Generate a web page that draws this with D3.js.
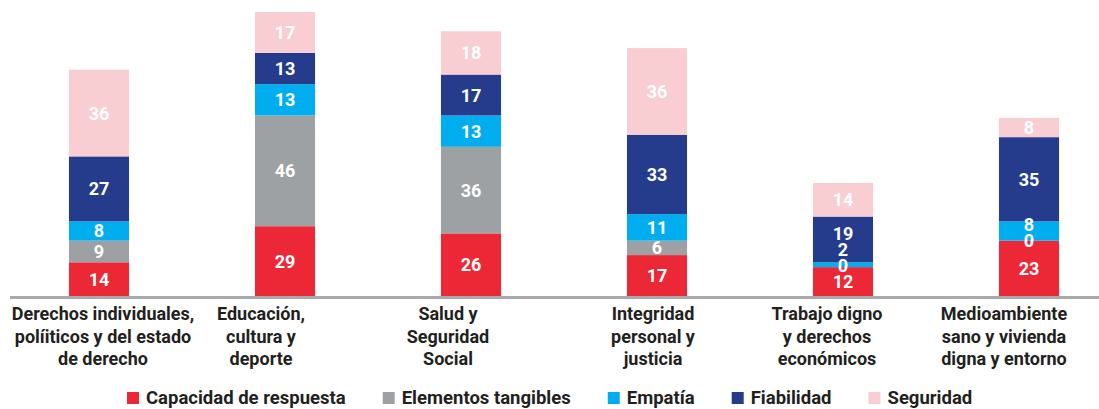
<!DOCTYPE html>
<html>
<head>
<meta charset="utf-8">
<script src="https://cdn.jsdelivr.net/npm/d3@7"></script>
<style>
  body { margin: 0; background: #fff; }
  svg { display: block; font-family: Roboto, "Noto Sans", sans-serif; }
</style>
</head>
<body>
<svg id="chart" width="1099" height="409"></svg>
<script>
// categories (one entry per line of the axis label)
const categories = [
  ["Derechos individuales,", "políiticos y del estado", "de derecho"],
  ["Educación,", "cultura y", "deporte"],
  ["Salud y", "Seguridad", "Social"],
  ["Integridad", "personal y", "justicia"],
  ["Trabajo digno", "y derechos", "económicos"],
  ["Medioambiente", "sano y vivienda", "digna y entorno"]
];
const seriesNames = ["Capacidad de respuesta", "Elementos tangibles", "Empatía", "Fiabilidad", "Seguridad"];
const capacidad = [14, 29, 26, 17, 12, 23];
const tangibles = [9, 46, 36, 6, 0, 0];
const empatia = [8, 13, 13, 11, 2, 8];
const fiabilidad = [27, 13, 17, 33, 19, 35];
const seguridad = [36, 17, 18, 36, 14, 8];

const colors = ["#ec2837", "#9ea1a3", "#00aeef", "#253c8d", "#f9ced2"];
const labelShift = [4, -24, -23, -4, -16, -25];

const keys = ["capacidad", "tangibles", "empatia", "fiabilidad", "seguridad"];
const rows = categories.map((c, i) => ({
  cat: i,
  capacidad: capacidad[i],
  tangibles: tangibles[i],
  empatia: empatia[i],
  fiabilidad: fiabilidad[i],
  seguridad: seguridad[i]
}));

const svg = d3.select("svg#chart");

let x = d3.scaleBand()
  .domain(d3.range(categories.length))
  .range([6, 1122])
  .paddingInner(0.677)
  .paddingOuter(0.3385);

let y = d3.scaleLinear()
  .domain([0, 118])
  .range([296, 12]);

let stack = d3.stack().keys(keys)(rows);

let layers = svg.selectAll("g.layer")
  .data(stack)
  .enter()
  .append("g")
  .attr("class", "layer")
  .attr("fill", (d, i) => colors[i]);

layers.selectAll("rect")
  .data(d => d)
  .enter()
  .append("rect")
  .attr("x", d => x(d.data.cat))
  .attr("width", x.bandwidth())
  .attr("y", d => y(d[1]))
  .attr("height", d => y(d[0]) - y(d[1]));

// value labels, pushed up when segments are too thin
const minGap = 16;
rows.forEach((r, i) => {
  let prev = Infinity;
  stack.forEach((s, k) => {
    let seg = s[i];
    let cy = Math.min(y((seg[0] + seg[1]) / 2), prev - minGap);
    prev = cy;
    svg.append("text")
      .attr("x", x(i) + x.bandwidth() / 2)
      .attr("y", cy)
      .attr("dy", "0.36em")
      .attr("text-anchor", "middle")
      .attr("fill", "#fff")
      .attr("font-weight", 700)
      .attr("font-size", 18)
      .text(seg[1] - seg[0]);
  });
});

// axis line
svg.append("line")
  .attr("x1", 10)
  .attr("x2", 1099)
  .attr("y1", y(0) + 1.5)
  .attr("y2", y(0) + 1.5)
  .attr("stroke", "#a7a9ac")
  .attr("stroke-width", 3);

// category labels
categories.forEach((lines, i) => {
  let t = svg.append("text")
    .attr("text-anchor", "middle")
    .attr("fill", "#231f20")
    .attr("font-weight", 700)
    .attr("font-size", 18);
  lines.forEach((ln, j) => {
    t.append("tspan")
      .attr("x", x(i) + x.bandwidth() / 2 + labelShift[i])
      .attr("y", 320 + j * 22.5)
      .text(ln);
  });
});

// legend
let lx = 127;
seriesNames.forEach((name, i) => {
  svg.append("rect")
    .attr("x", lx)
    .attr("y", 392)
    .attr("width", 12)
    .attr("height", 12)
    .attr("fill", colors[i]);
  let t = svg.append("text")
    .attr("x", lx + 19)
    .attr("y", 404)
    .attr("fill", "#231f20")
    .attr("font-weight", 700)
    .attr("font-size", 18.5)
    .text(name);
  lx += 19 + t.node().getComputedTextLength() + 37;
});
</script>
</body>
</html>
